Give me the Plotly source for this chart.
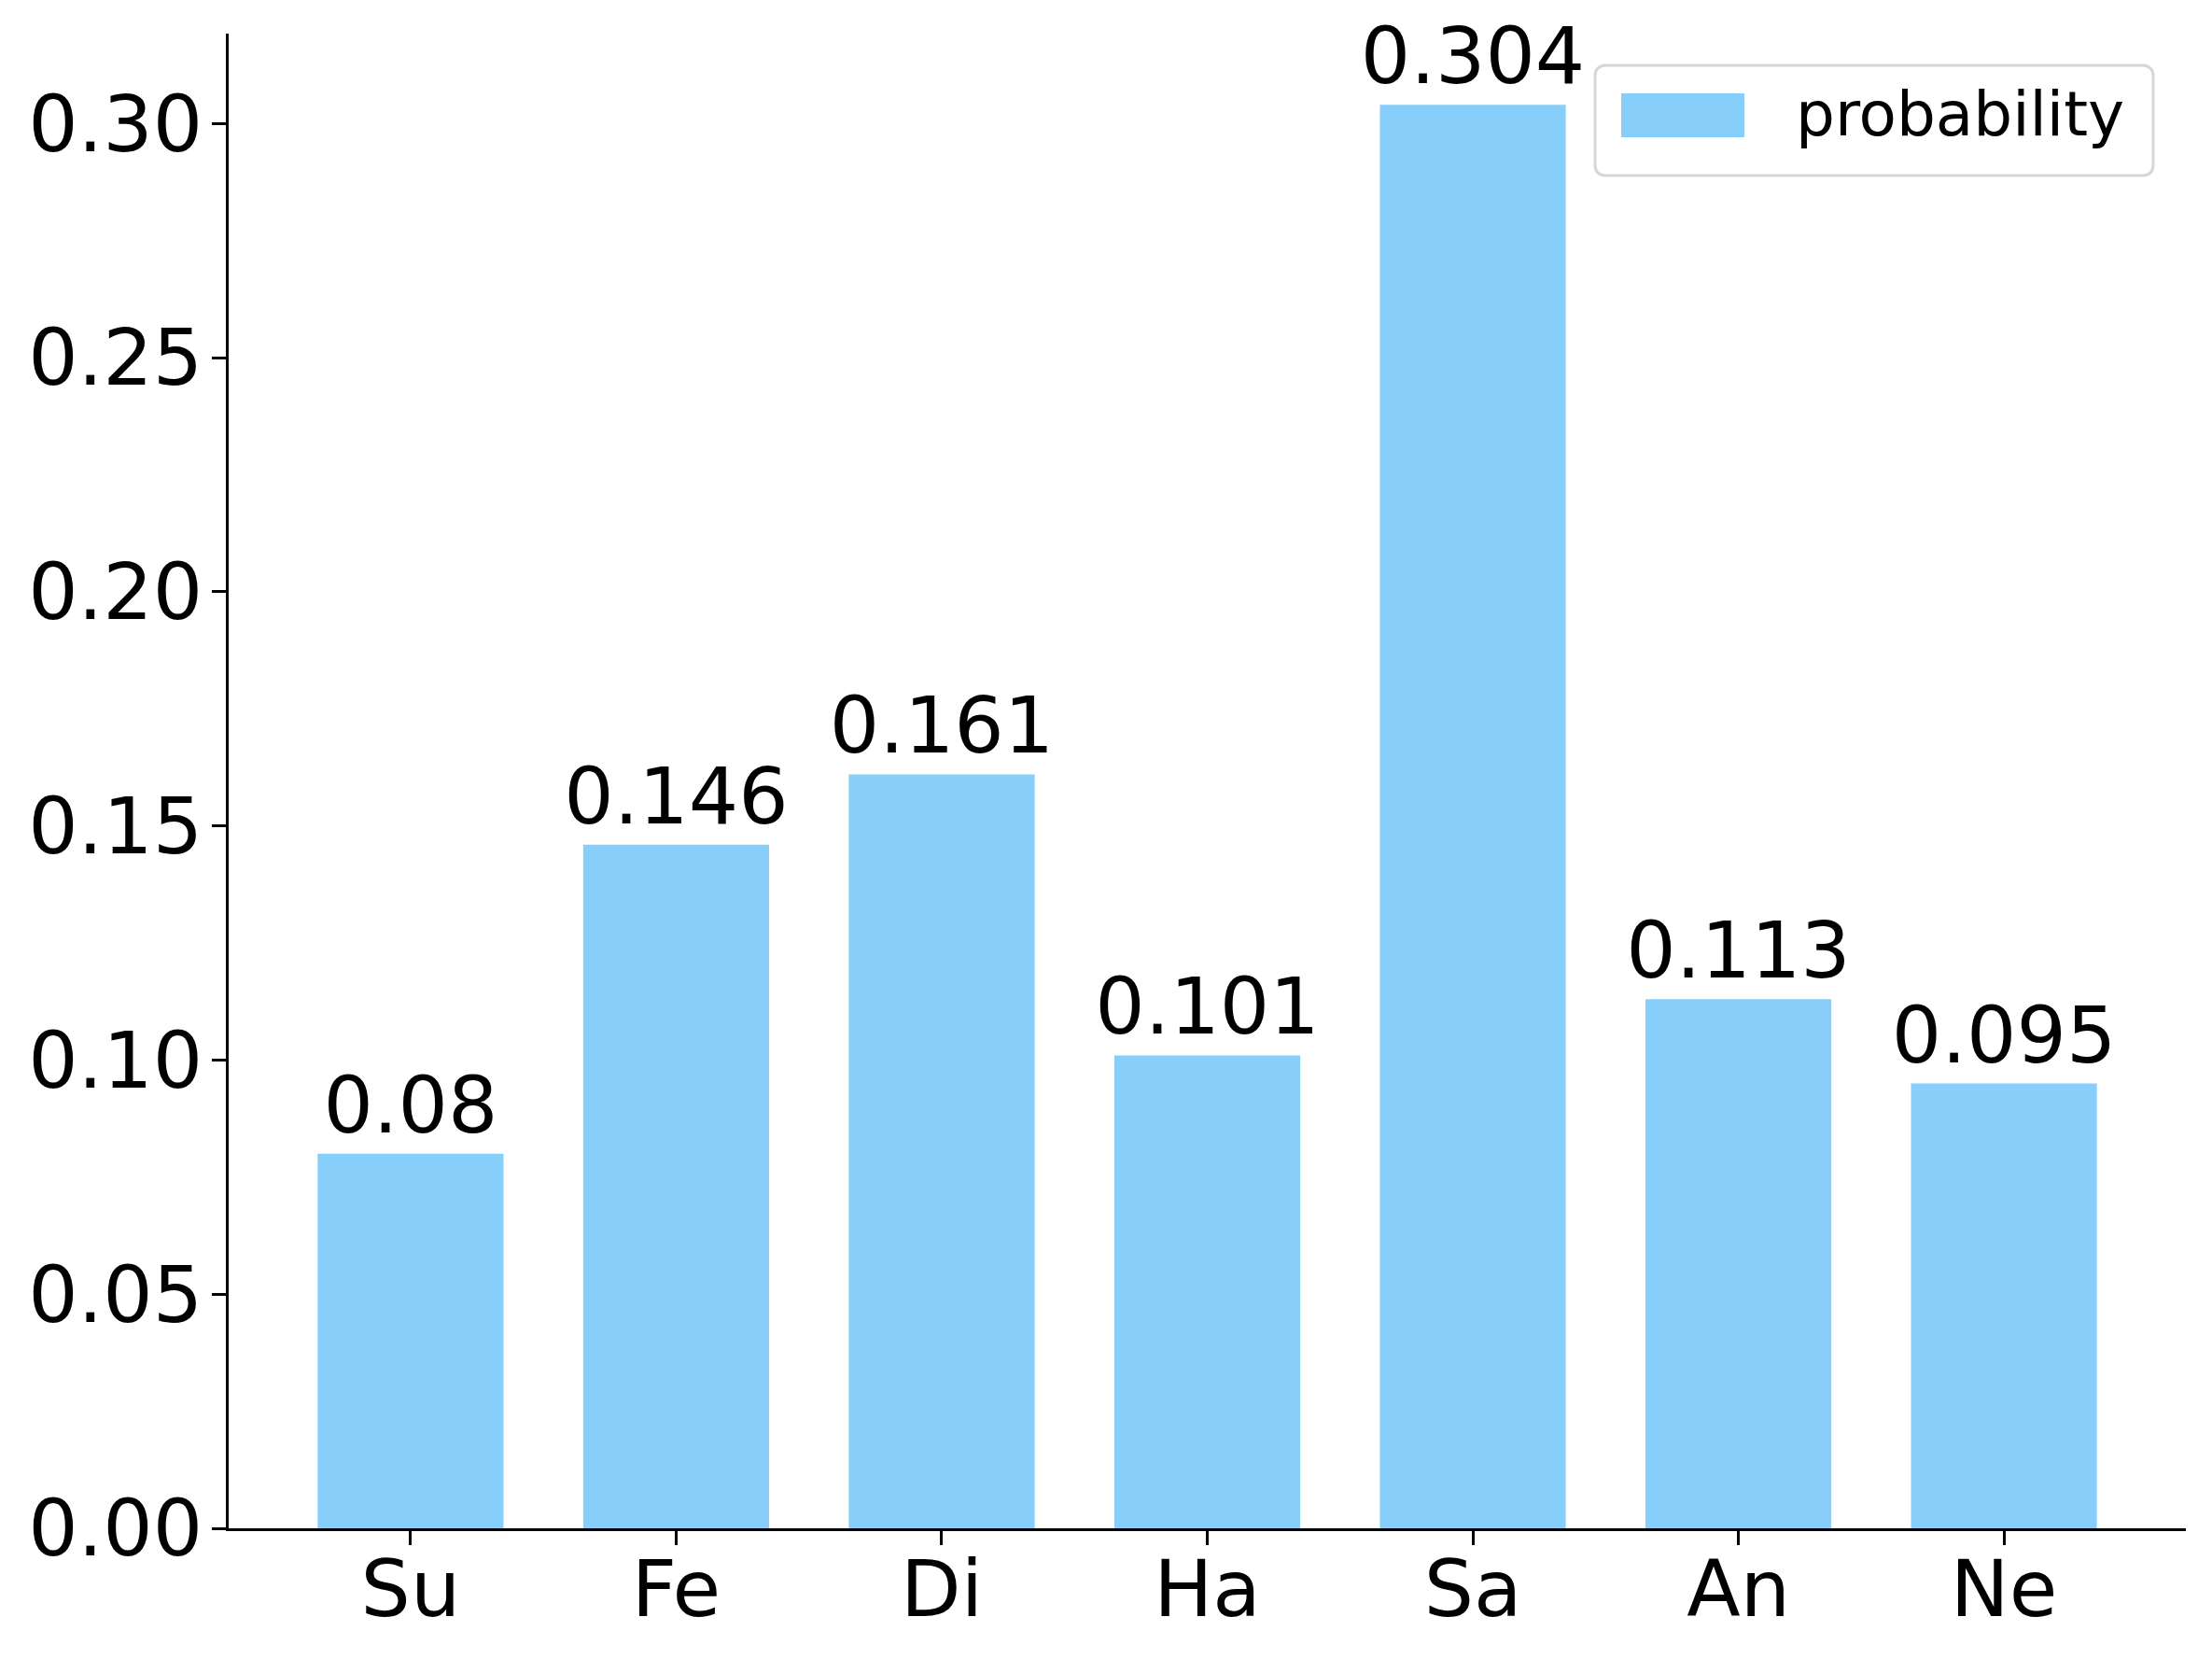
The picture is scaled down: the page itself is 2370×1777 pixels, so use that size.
import plotly.graph_objects as go

categories = ["Su", "Fe", "Di", "Ha", "Sa", "An", "Ne"]
probability = [0.08, 0.146, 0.161, 0.101, 0.304, 0.113, 0.095]
bar_labels = ["0.08", "0.146", "0.161", "0.101", "0.304", "0.113", "0.095"]
y_ticks = [0.00, 0.05, 0.10, 0.15, 0.20, 0.25, 0.30]

BAR_COLOR = "#87CEFA"
FONT = "DejaVu Sans"

# the page body has an 8px default margin; size the figure so it fits the window
OFF = 8
W, H = 2354, 1761
L, R, T, B = 237, 20, 28, 132
plot_w = W - L - R
plot_h = H - T - B


def px_x(px):
    return (px - OFF - L) / plot_w


def px_y(py):
    return (H - B - (py - OFF)) / plot_h


fig = go.Figure()
fig.add_trace(go.Bar(
    x=list(range(len(categories))),
    y=probability,
    width=0.7,
    name="probability",
    marker=dict(color=BAR_COLOR, line=dict(width=0)),
    text=bar_labels,
    textposition="outside",
    textfont=dict(family=FONT, size=84, color="black"),
    constraintext="none",
    cliponaxis=False,
    showlegend=True,
))

# legend frame and patch (matplotlib-style)
x0, x1, y0, y1, r = 1709, 2307, 70, 188, 12
path = (
    f"M {px_x(x0 + r)},{px_y(y0)} L {px_x(x1 - r)},{px_y(y0)} "
    f"Q {px_x(x1)},{px_y(y0)} {px_x(x1)},{px_y(y0 + r)} "
    f"L {px_x(x1)},{px_y(y1 - r)} Q {px_x(x1)},{px_y(y1)} {px_x(x1 - r)},{px_y(y1)} "
    f"L {px_x(x0 + r)},{px_y(y1)} Q {px_x(x0)},{px_y(y1)} {px_x(x0)},{px_y(y1 - r)} "
    f"L {px_x(x0)},{px_y(y0 + r)} Q {px_x(x0)},{px_y(y0)} {px_x(x0 + r)},{px_y(y0)} Z"
)
fig.add_shape(type="path", xref="paper", yref="paper", path=path,
              fillcolor="white", line=dict(color="#d6d6d6", width=3), layer="below")
fig.add_shape(type="rect", xref="paper", yref="paper",
              x0=px_x(1737), x1=px_x(1869), y0=px_y(147), y1=px_y(100),
              fillcolor=BAR_COLOR, line=dict(width=0), layer="below")

fig.update_layout(
    width=W, height=H,
    margin=dict(l=L, r=R, t=T, b=B, pad=0, autoexpand=False),
    paper_bgcolor="white", plot_bgcolor="rgba(0,0,0,0)",
    font=dict(family=FONT, color="black"),
    bargap=0.3,
    legend=dict(
        x=px_x(1709), y=px_y(70), xanchor="left", yanchor="top",
        bgcolor="rgba(0,0,0,0)", borderwidth=0,
        font=dict(family=FONT, size=66, color="black"),
        itemwidth=205,
    ),
    xaxis=dict(
        range=[-0.685, 6.685], automargin=False,
        tickmode="array", tickvals=list(range(len(categories))), ticktext=categories,
        showline=True, linecolor="black", linewidth=3,
        ticks="outside", ticklen=15, tickwidth=3, tickcolor="black",
        tickfont=dict(family=FONT, size=84, color="black"),
        ticklabelstandoff=-25,
        showgrid=False, zeroline=False,
    ),
    yaxis=dict(
        range=[0, 0.3192], automargin=False,
        tickmode="array", tickvals=y_ticks, tickformat=".2f",
        showline=True, linecolor="black", linewidth=3,
        ticks="outside", ticklen=15, tickwidth=3, tickcolor="black",
        tickfont=dict(family=FONT, size=84, color="black"),
        ticklabelstandoff=-7,
        showgrid=False, zeroline=False,
    ),
)

fig.write_html("out.html")
